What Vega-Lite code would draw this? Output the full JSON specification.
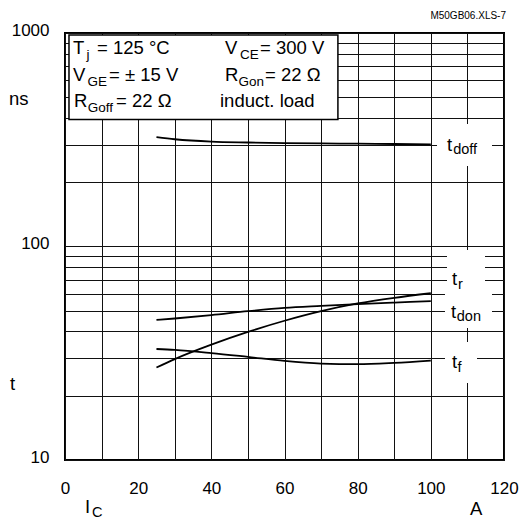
{
  "$schema": "https://vega.github.io/schema/vega-lite/v6.json",
  "width": 439,
  "height": 427,
  "autosize": {"type": "none"},
  "padding": {"left": 65, "top": 33, "right": 24, "bottom": 62},
  "background": "white",
  "config": {
    "view": {"stroke": "black", "strokeWidth": 2},
    "font": "Liberation Sans"
  },
  "datasets": {
    "curves": [
      {"s": "tdoff", "x": 25, "y": 325}, {"s": "tdoff", "x": 30, "y": 318}, {"s": "tdoff", "x": 40, "y": 310}, {"s": "tdoff", "x": 50, "y": 307}, {"s": "tdoff", "x": 60, "y": 305}, {"s": "tdoff", "x": 70, "y": 304}, {"s": "tdoff", "x": 80, "y": 303}, {"s": "tdoff", "x": 90, "y": 302}, {"s": "tdoff", "x": 100, "y": 301},
      {"s": "tr", "x": 25, "y": 27.1}, {"s": "tr", "x": 30, "y": 29.7}, {"s": "tr", "x": 40, "y": 34.7}, {"s": "tr", "x": 50, "y": 39.8}, {"s": "tr", "x": 60, "y": 44.9}, {"s": "tr", "x": 70, "y": 49.8}, {"s": "tr", "x": 80, "y": 54.1}, {"s": "tr", "x": 90, "y": 57.5}, {"s": "tr", "x": 100, "y": 60.4},
      {"s": "tdon", "x": 25, "y": 45.3}, {"s": "tdon", "x": 30, "y": 46.0}, {"s": "tdon", "x": 40, "y": 47.7}, {"s": "tdon", "x": 50, "y": 49.8}, {"s": "tdon", "x": 60, "y": 51.6}, {"s": "tdon", "x": 70, "y": 52.7}, {"s": "tdon", "x": 80, "y": 53.7}, {"s": "tdon", "x": 90, "y": 54.6}, {"s": "tdon", "x": 100, "y": 55.5},
      {"s": "tf", "x": 25, "y": 33.1}, {"s": "tf", "x": 30, "y": 32.8}, {"s": "tf", "x": 40, "y": 31.7}, {"s": "tf", "x": 50, "y": 30.4}, {"s": "tf", "x": 60, "y": 29.1}, {"s": "tf", "x": 70, "y": 28.3}, {"s": "tf", "x": 80, "y": 28.1}, {"s": "tf", "x": 90, "y": 28.5}, {"s": "tf", "x": 100, "y": 29.2}
    ],
    "boxes": [
      {"b": "legend", "x": 1.09, "x2": 74.6, "y": 978.6, "y2": 393.5},
      {"b": "gap", "x": 101.69, "x2": 116.72, "y": 374.9, "y2": 238.3},
      {"b": "gap", "x": 104.42, "x2": 114.81, "y": 96.3, "y2": 63.9},
      {"b": "gap", "x": 103.87, "x2": 116.72, "y": 63.9, "y2": 41.5},
      {"b": "gap", "x": 103.87, "x2": 112.62, "y": 35.7, "y2": 22.95}
    ],
    "texts": [
      {"k": "m", "x": 2.19, "y": 801.6, "t": "T"},
      {"k": "s", "x": 5.88, "y": 759.5, "t": "j"},
      {"k": "m", "x": 8.75, "y": 801.6, "t": "= 125 °C"},
      {"k": "m", "x": 43.74, "y": 801.6, "t": "V"},
      {"k": "s", "x": 47.84, "y": 759.5, "t": "CE"},
      {"k": "m", "x": 53.3, "y": 801.6, "t": "= 300 V"},
      {"k": "m", "x": 2.19, "y": 595.9, "t": "V"},
      {"k": "s", "x": 6.15, "y": 564.6, "t": "GE"},
      {"k": "m", "x": 12.03, "y": 595.9, "t": "= ± 15 V"},
      {"k": "m", "x": 43.74, "y": 595.9, "t": "R"},
      {"k": "s", "x": 47.43, "y": 564.6, "t": "Gon"},
      {"k": "m", "x": 54.67, "y": 595.9, "t": "= 22 Ω"},
      {"k": "m", "x": 2.46, "y": 452.6, "t": "R"},
      {"k": "s", "x": 6.21, "y": 428.8, "t": "Goff"},
      {"k": "m", "x": 13.94, "y": 452.6, "t": "= 22 Ω"},
      {"k": "m", "x": 42.37, "y": 452.6, "t": "induct. load"},
      {"k": "c", "x": 104.42, "y": 280.2, "t": "t"},
      {"k": "cs", "x": 106.1, "y": 269.8, "t": "doff"},
      {"k": "c", "x": 105.79, "y": 66.02, "t": "t"},
      {"k": "cs", "x": 107.4, "y": 63.23, "t": "r"},
      {"k": "c", "x": 105.51, "y": 46.26, "t": "t"},
      {"k": "cs", "x": 107.1, "y": 44.55, "t": "don"},
      {"k": "c", "x": 105.79, "y": 26.97, "t": "t"},
      {"k": "cs", "x": 107.29, "y": 25.7, "t": "f"},
      {"k": "c", "x": -15.31, "y": 459.9, "t": "ns"},
      {"k": "c", "x": -15.03, "y": 21.3, "t": "t"},
      {"k": "c", "x": 5.47, "y": 5.646, "t": "I"},
      {"k": "cs", "x": 7.38, "y": 5.408, "t": "C"},
      {"k": "c", "x": 110.71, "y": 5.5, "t": "A"},
      {"k": "r", "x": 120.55, "y": 1156.8, "t": "M50GB06.XLS-7"}
    ]
  },
  "encoding": {
    "x": {
      "field": "x",
      "type": "quantitative",
      "scale": {"domain": [0, 120], "nice": false, "zero": false},
      "axis": {
        "title": null,
        "values": [0, 10, 20, 30, 40, 50, 60, 70, 80, 90, 100, 110, 120],
        "labelExpr": "datum.value % 20 === 0 ? '' + datum.value : ''",
        "ticks": false,
        "domain": false,
        "grid": true,
        "gridColor": "#111111",
        "gridWidth": 1,
        "gridOpacity": 1,
        "labelFont": "Liberation Sans",
        "labelFontSize": 17,
        "labelColor": "black",
        "labelPadding": 20,
        "labelFlush": false,
        "labelOverlap": false
      }
    },
    "y": {
      "field": "y",
      "type": "quantitative",
      "scale": {"type": "log", "domain": [10, 1000], "nice": false},
      "axis": {
        "title": null,
        "values": [10, 20, 30, 40, 50, 60, 70, 80, 90, 100, 200, 300, 400, 500, 600, 700, 800, 900, 1000],
        "labelExpr": "datum.value == 10 || datum.value == 100 || datum.value == 1000 ? '' + datum.value : ''",
        "ticks": false,
        "domain": false,
        "grid": true,
        "gridColor": "#111111",
        "gridWidth": 1,
        "gridOpacity": 1,
        "labelFont": "Liberation Sans",
        "labelFontSize": 17,
        "labelColor": "black",
        "labelPadding": 16,
        "labelOffset": -3,
        "labelFlush": false,
        "labelOverlap": false
      }
    }
  },
  "layer": [
    {
      "data": {"name": "boxes"},
      "transform": [{"filter": "datum.b == 'gap'"}],
      "mark": {"type": "rect", "fill": "white", "stroke": null},
      "encoding": {"x2": {"field": "x2"}, "y2": {"field": "y2"}}
    },
    {
      "data": {"name": "boxes"},
      "transform": [{"filter": "datum.b == 'legend'"}],
      "mark": {"type": "rect", "fill": "white", "stroke": "black", "strokeWidth": 1.5},
      "encoding": {"x2": {"field": "x2"}, "y2": {"field": "y2"}}
    },
    {
      "data": {"name": "curves"},
      "mark": {"type": "line", "interpolate": "monotone", "color": "black", "strokeWidth": 1.8},
      "encoding": {"detail": {"field": "s"}}
    },
    {
      "data": {"name": "texts"},
      "transform": [{"filter": "datum.k == 'm'"}],
      "mark": {"type": "text", "align": "left", "baseline": "alphabetic", "fontSize": 18.5, "color": "black", "font": "Liberation Sans"},
      "encoding": {"text": {"field": "t"}}
    },
    {
      "data": {"name": "texts"},
      "transform": [{"filter": "datum.k == 's'"}],
      "mark": {"type": "text", "align": "left", "baseline": "alphabetic", "fontSize": 13.5, "color": "black", "font": "Liberation Sans"},
      "encoding": {"text": {"field": "t"}}
    },
    {
      "data": {"name": "texts"},
      "transform": [{"filter": "datum.k == 'c'"}],
      "mark": {"type": "text", "align": "left", "baseline": "alphabetic", "fontSize": 18.5, "color": "black", "font": "Liberation Sans"},
      "encoding": {"text": {"field": "t"}}
    },
    {
      "data": {"name": "texts"},
      "transform": [{"filter": "datum.k == 'cs'"}],
      "mark": {"type": "text", "align": "left", "baseline": "alphabetic", "fontSize": 14.5, "color": "black", "font": "Liberation Sans"},
      "encoding": {"text": {"field": "t"}}
    },
    {
      "data": {"name": "texts"},
      "transform": [{"filter": "datum.k == 'r'"}],
      "mark": {"type": "text", "align": "right", "baseline": "alphabetic", "fontSize": 10, "color": "black", "font": "Liberation Sans"},
      "encoding": {"text": {"field": "t"}}
    }
  ]
}
